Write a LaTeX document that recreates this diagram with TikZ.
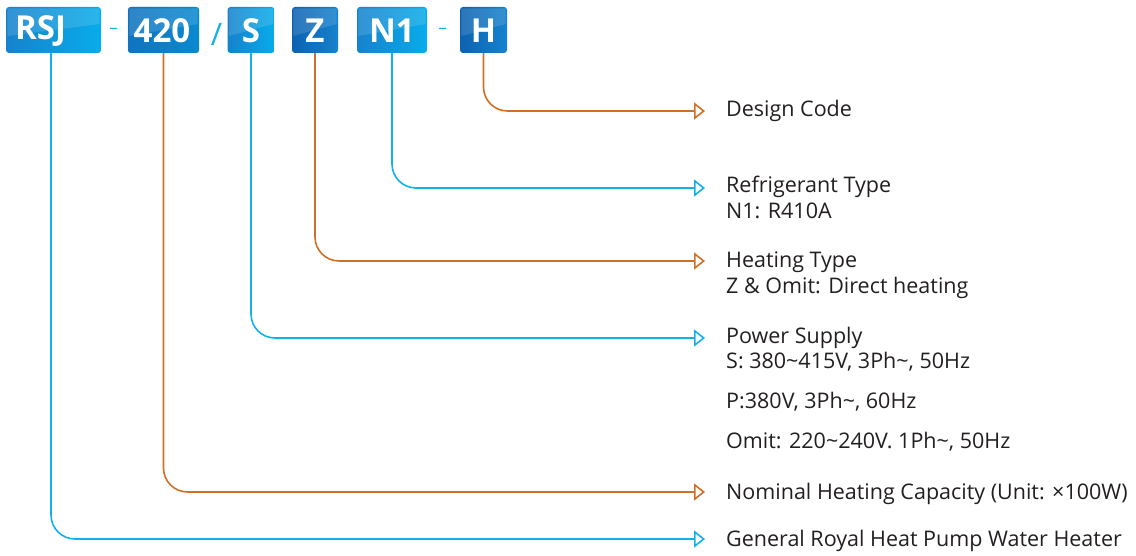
\documentclass[tikz,border=0pt]{standalone}
\usepackage{fontspec}
\setmainfont{Open Sans}
\usetikzlibrary{arrows.meta}
\definecolor{cblue}{RGB}{20,176,234}
\definecolor{corange}{RGB}{208,112,38}
\definecolor{bdark}{RGB}{12,98,176}
\definecolor{bmid}{RGB}{22,130,205}
\definecolor{blight}{RGB}{8,172,234}
\definecolor{txt}{RGB}{35,31,32}
\tikzset{
  codebox/.style={rounded corners=3pt, left color=bmid, right color=blight, minimum height=46pt, inner sep=0pt, text=white, font=\fontsize{33}{33}\selectfont\bfseries},
  darkbox/.style={codebox, left color=bdark, right color=bmid},
  boxtext/.style={inner sep=0pt, text=white, font=\fontsize{33}{33}\selectfont\bfseries},
  sep/.style={text=cblue, inner sep=0pt},
  lbl/.style={anchor=base west, inner sep=0pt, text=txt, font=\fontsize{21.5}{25}\selectfont},
  bline/.style={draw=cblue, line width=1.6pt, rounded corners=24pt, -{Triangle[open, length=11pt, width=17pt, line width=1.6pt]}},
  oline/.style={bline, draw=corange},
  gloss/.style={fill=white, opacity=0.13},
}
\newcommand\boxgloss[1]{\fill[gloss] ([xshift=1.5pt,yshift=-1.5pt]#1.north west) -- ([xshift=-1.5pt,yshift=-1.5pt]#1.north east) -- ([xshift=-1.5pt,yshift=6pt]#1.east) -- ([xshift=1.5pt,yshift=-6pt]#1.west) -- cycle;}
\begin{document}
\begin{tikzpicture}[x=1pt,y=-1pt]
\useasboundingbox (0,0) rectangle (1136,556);
% code boxes
\node[codebox, minimum width=95pt] (rsj) at (53.5,30) {};
\node[codebox, minimum width=71pt] (n420) at (163.5,30) {};
\node[codebox, minimum width=47pt] (s) at (251,30) {};
\node[darkbox, minimum width=46pt] (z) at (315,30) {};
\node[codebox, minimum width=70pt] (n1) at (392,30) {};
\node[darkbox, minimum width=47pt] (h) at (483.5,30) {};
\fill[fill=bdark, opacity=0.45, rounded corners=3pt] (n420.north west) rectangle (n420.south east);
\boxgloss{rsj}\boxgloss{n420}\boxgloss{s}\boxgloss{z}\boxgloss{n1}\boxgloss{h}
\node[boxtext, anchor=west] (rsjt) at (15,31) {RSJ};
\node[boxtext] (n420t) at (162,31) {420};
\node[boxtext] (st) at (251,31) {S};
\node[boxtext] (zt) at (315,31) {Z};
\node[boxtext] (n1t) at (392,31) {N1};
\node[boxtext] (ht) at (483.5,31) {H};
% separators
\node[sep, font=\fontsize{17}{17}\selectfont] (sep1) at (113.5,31) {–};
\node[sep, font=\fontsize{31}{31}\selectfont] (sep2) at (216.5,34) {/};
\node[sep, font=\fontsize{17}{17}\selectfont] (sep3) at (442.5,31) {–};
% labels
\node[lbl] (design) at (726,117) {Design Code};
\node[lbl] (refr) at (726,193) {Refrigerant Type};
\node[lbl] (refr2) at (726,219) {N1: R410A};
\node[lbl] (heat) at (726,268) {Heating Type};
\node[lbl] (heat2) at (726,294) {Z \& Omit: Direct heating};
\node[lbl] (pow) at (726,344) {Power Supply};
\node[lbl] (pow2) at (726,368) {S: 380\textasciitilde415V, 3Ph\textasciitilde, 50Hz};
\node[lbl] (pow3) at (726,408) {P:380V, 3Ph\textasciitilde, 60Hz};
\node[lbl] (pow4) at (726,448) {Omit: 220\textasciitilde240V. 1Ph\textasciitilde, 50Hz};
\node[lbl] (nom) at (726,499) {Nominal Heating Capacity (Unit: ×100W)};
\node[lbl] (gen) at (726,546) {General Royal Heat Pump Water Heater};
% arrow end points
\coordinate (designA) at (705,111);
\coordinate (refrA) at (705,188);
\coordinate (heatA) at (705,261);
\coordinate (powA) at (705,338);
\coordinate (nomA) at (705,492);
\coordinate (genA) at (705,539);
% connectors
\draw[oline] (h.south) |- (designA);
\draw[bline] (n1.south) |- (refrA);
\draw[oline] (z.south) |- (heatA);
\draw[bline] (s.south) |- (powA);
\draw[oline] (n420.south) |- (nomA);
\draw[bline] ([xshift=-2.5pt]rsj.south) |- (genA);
\end{tikzpicture}
\end{document}
